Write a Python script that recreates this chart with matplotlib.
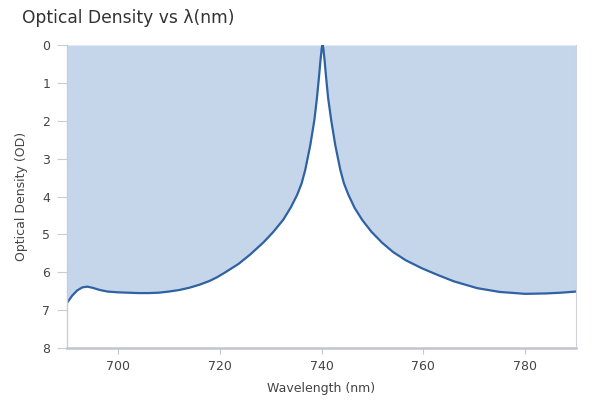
import matplotlib
matplotlib.use("Agg")
import matplotlib.pyplot as plt

wavelength = [690, 691, 692, 693, 694, 695, 696.5, 698, 700, 702, 704, 706, 708, 710,
              712, 714, 716, 718, 719.5, 721.0, 723.7, 726.0, 728.6, 730.5, 732.5, 734.0,
              735.2, 736.1, 736.8, 737.8, 738.6, 739.1, 739.5, 739.8, 740.05, 740.2,
              740.35, 740.6, 740.9, 741.3, 741.9, 742.7, 743.7, 744.4, 745.3, 746.5,
              748.0, 749.8, 751.9, 754.0, 756.5, 759.8, 762.8, 766, 770.6, 775, 780,
              784, 787, 790]
optical_density = [6.81, 6.62, 6.48, 6.40, 6.38, 6.41, 6.47, 6.51, 6.53, 6.54, 6.55, 6.55,
                   6.54, 6.51, 6.47, 6.41, 6.33, 6.23, 6.13, 6.01, 5.78, 5.53, 5.21, 4.94,
                   4.61, 4.28, 3.96, 3.65, 3.30, 2.64, 1.98, 1.40, 0.85, 0.40, 0.08, 0.0,
                   0.08, 0.40, 0.85, 1.40, 1.98, 2.64, 3.30, 3.65, 3.96, 4.30,
                   4.62, 4.93, 5.22, 5.46, 5.68, 5.90, 6.07, 6.24, 6.42, 6.52, 6.57,
                   6.56, 6.54, 6.51]
x_ticks = [700, 720, 740, 760, 780]
y_ticks = [0, 1, 2, 3, 4, 5, 6, 7, 8]

fig = plt.figure(figsize=(6, 4), dpi=100)
ax = fig.add_axes([0.1117, 0.13, 0.8483, 0.7575])

fill_c = "#c5d6ea"
line_c = "#2f62a3"
ax.fill_between(wavelength, 0, optical_density, color=fill_c, linewidth=0, zorder=1)
ax.plot(wavelength, optical_density, color=line_c, linewidth=1.6, zorder=2,
        solid_joinstyle="round")

ax.set_xlim(690, 790)
ax.set_ylim(8, 0)
ax.set_xticks(x_ticks)
ax.set_yticks(y_ticks)

ax.spines["top"].set_visible(False)
ax.spines["left"].set_color("#c8ccd6")
ax.spines["left"].set_linewidth(1.0)
ax.spines["right"].set_color("#d0d3da")
ax.spines["right"].set_linewidth(0.8)
ax.spines["bottom"].set_color("#c0c4d0")
ax.spines["bottom"].set_linewidth(1.8)

ax.tick_params(axis="y", length=7, width=0.8, color="#c8ccd6", labelsize=9,
               labelcolor="#444444", pad=5)
ax.tick_params(axis="x", length=4, width=0.8, color="#c0c4d0", labelsize=9,
               labelcolor="#444444", pad=5)

ax.set_xlabel("Wavelength (nm)", fontsize=9, color="#444444", labelpad=6)
ax.set_ylabel("Optical Density (OD)", fontsize=9, color="#444444", labelpad=10)

fig.text(0.037, 0.955, "Optical Density vs λ(nm)", fontsize=12.3, color="#333333",
         ha="left", va="center")

fig.savefig("out.png", dpi=100)
